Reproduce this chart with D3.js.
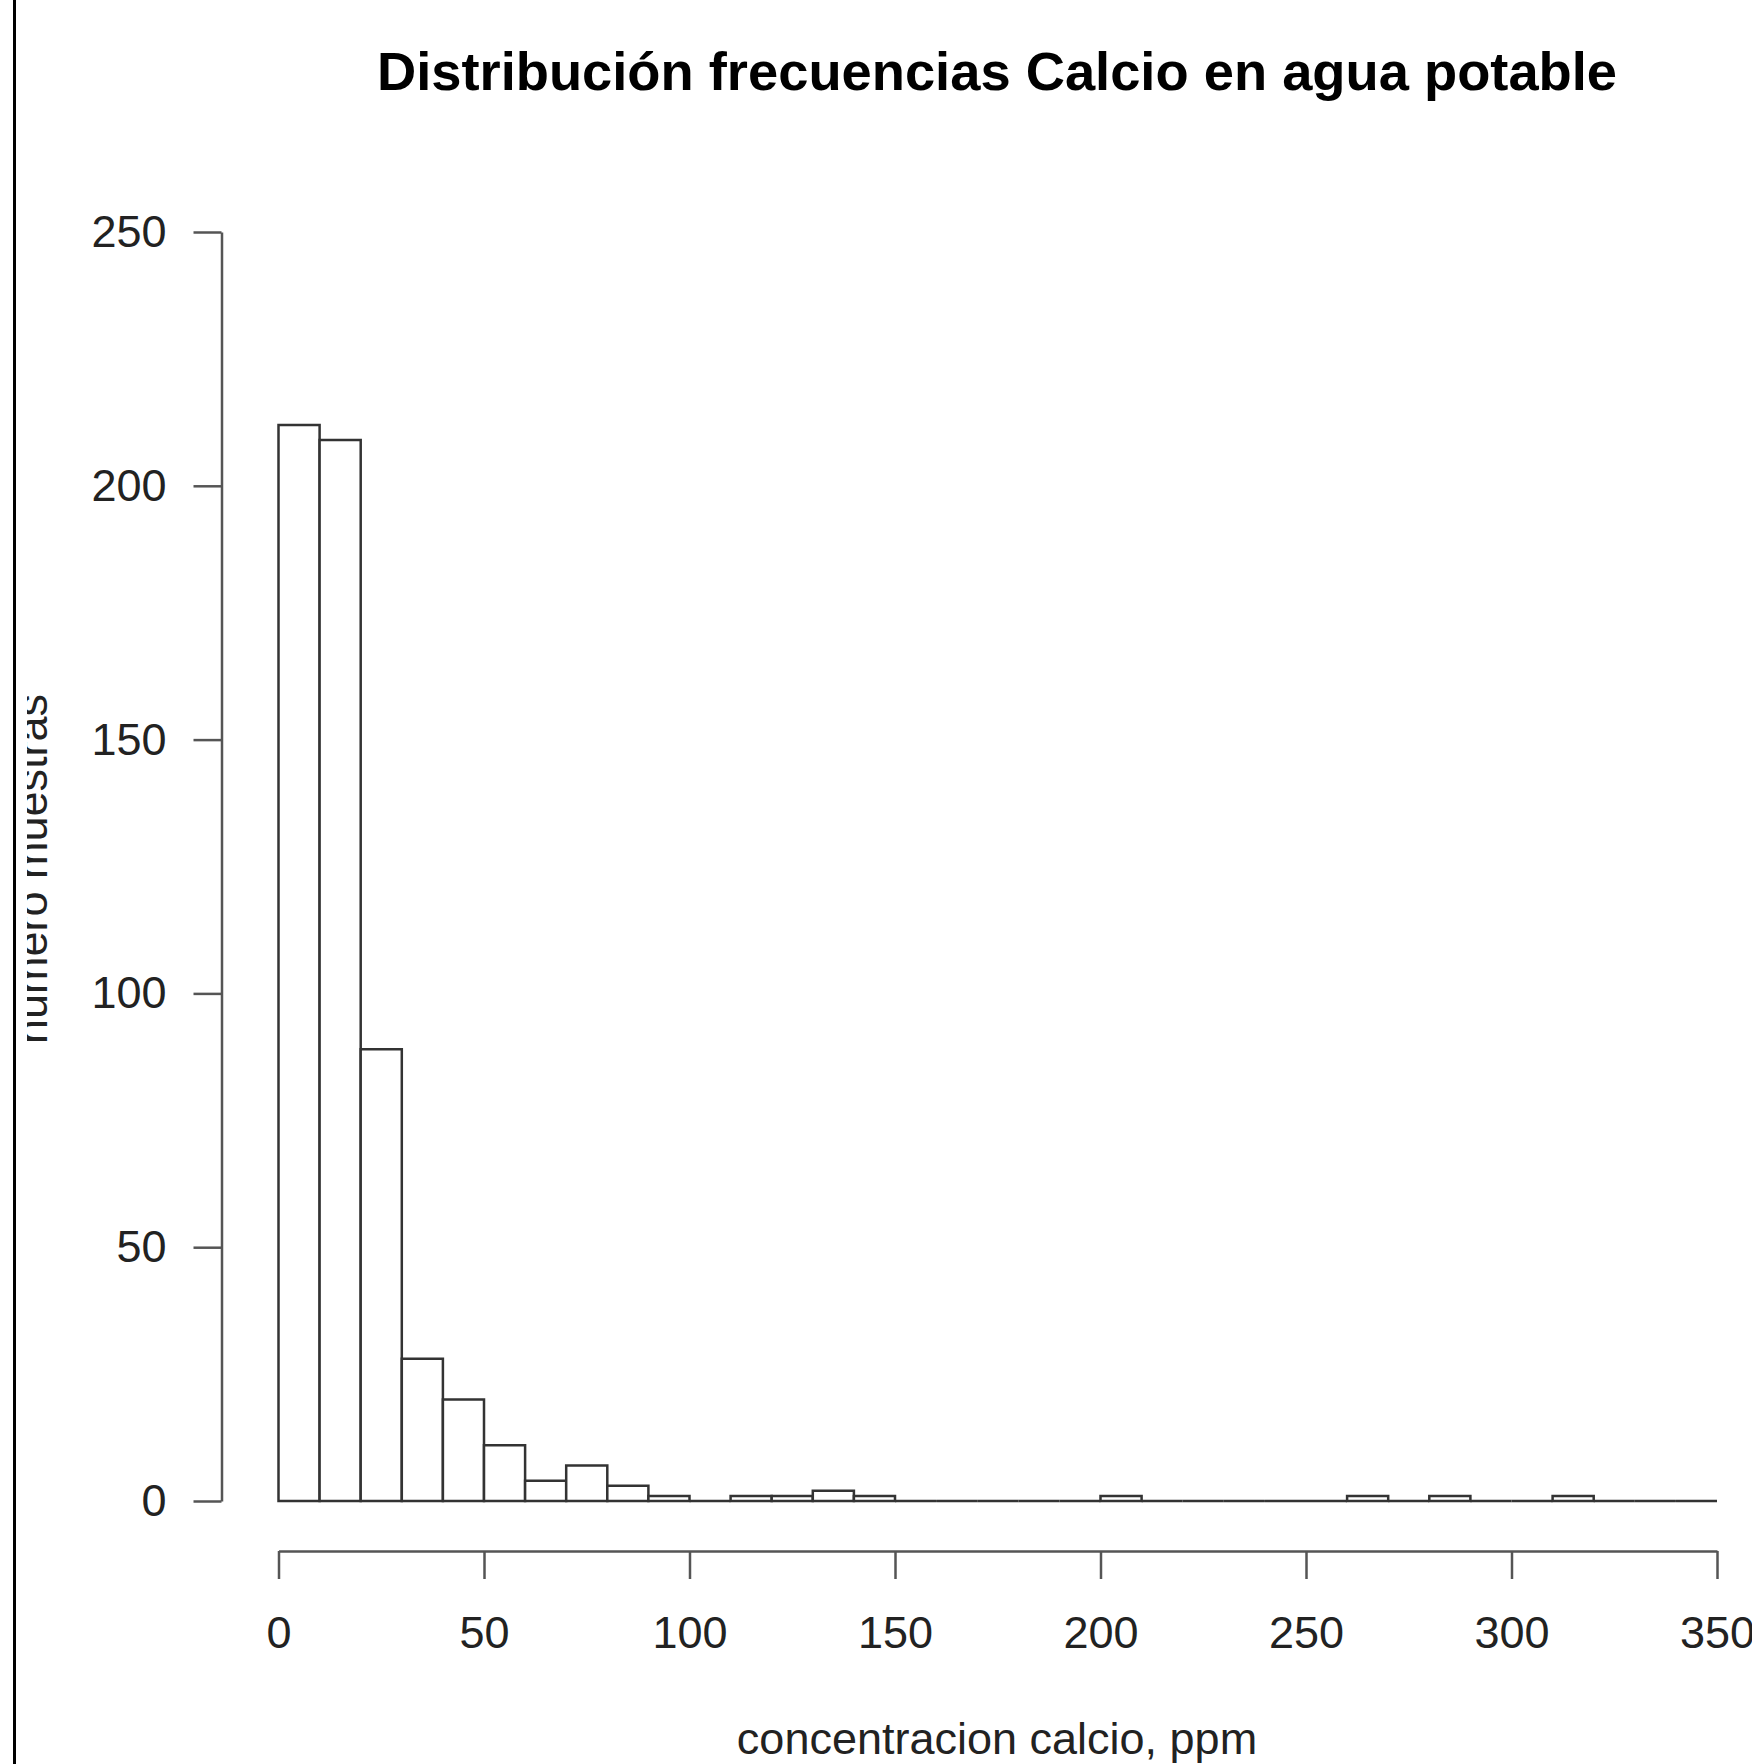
<!DOCTYPE html>
<html>
<head>
<meta charset="utf-8">
<script src="https://cdn.jsdelivr.net/npm/d3@7"></script>
<style>
    body { margin: 0; background: #fff; }
    svg { display: block; font-family: "Liberation Sans", Arial, Helvetica, sans-serif; }
</style>
</head>
<body>
<div id="chart"></div>
<script>
// histogram of calcium concentration, bins of 10 ppm from 0 to 350
const binWidth = 10;
const binStarts = d3.range(0, 350, binWidth);
const counts = [
    212, 209, 89, 28, 20, 11, 4, 7, 3, 1,
    0, 1, 1, 2, 1, 0, 0, 0, 0, 0,
    1, 0, 0, 0, 0, 0, 1, 0, 1, 0,
    0, 1, 0, 0, 0
];
const xTicks = [0, 50, 100, 150, 200, 250, 300, 350];
const yTicks = [0, 50, 100, 150, 200, 250];

const title = 'Distribución frecuencias Calcio en agua potable';
const xLabel = 'concentracion calcio, ppm';
const yLabel = 'numero muestras';

const bins = binStarts.map((x0, i) => ({ x0: x0, x1: x0 + binWidth, count: counts[i] }));

const width = 1752;
const height = 1764;
const axisColor = '#555';
const barColor = '#333';
const textColor = '#222';

const x = d3.scaleLinear()
    .domain([0, 350])
    .range([278.5, 1717]);

const y = d3.scaleLinear()
    .domain([0, 250])
    .range([1501, 232]);

const svg = d3.select('#chart').append('svg')
    .attr('width', width)
    .attr('height', height)
    .attr('viewBox', [0, 0, width, height]);

svg.append('rect')
    .attr('width', width)
    .attr('height', height)
    .attr('fill', '#fff');

// left frame edge of the original figure
svg.append('line')
    .attr('x1', 14.5).attr('x2', 14.5)
    .attr('y1', 0).attr('y2', height)
    .attr('stroke', '#000')
    .attr('stroke-width', 3);

svg.append('text')
    .attr('x', 997)
    .attr('y', 90)
    .attr('text-anchor', 'middle')
    .attr('font-size', 54.3)
    .attr('font-weight', 'bold')
    .attr('fill', '#000')
    .text(title);

// bars as closed paths so that empty bins still show on the baseline, like R
const barPath = d => {
    const p = d3.path();
    p.moveTo(x(d.x0), y(0));
    p.lineTo(x(d.x0), y(d.count));
    p.lineTo(x(d.x1), y(d.count));
    p.lineTo(x(d.x1), y(0));
    p.closePath();
    return p.toString();
};

svg.append('g')
    .selectAll('path')
    .data(bins)
    .join('path')
    .attr('d', barPath)
    .attr('fill', '#fff')
    .attr('stroke', barColor)
    .attr('stroke-width', 2.5)
    .attr('stroke-linejoin', 'miter');

let yAxis = g => g
    .attr('transform', 'translate(221.5,0)')
    .call(d3.axisLeft(y).tickValues(yTicks).tickSize(28).tickSizeOuter(0).tickPadding(27))
    .call(g => g.select('.domain').attr('stroke', axisColor).attr('stroke-width', 2.5))
    .call(g => g.selectAll('.tick line').attr('stroke', axisColor).attr('stroke-width', 2.5))
    .call(g => g.selectAll('.tick text')
        .attr('font-size', 45)
        .attr('font-family', '"Liberation Sans", Arial, sans-serif')
        .attr('fill', textColor));

let xAxis = g => g
    .attr('transform', 'translate(0,1551)')
    .call(d3.axisBottom(x).tickValues(xTicks).tickSize(28).tickSizeOuter(0).tickPadding(37))
    .call(g => g.select('.domain').attr('stroke', axisColor).attr('stroke-width', 2.5))
    .call(g => g.selectAll('.tick line').attr('stroke', axisColor).attr('stroke-width', 2.5))
    .call(g => g.selectAll('.tick text')
        .attr('font-size', 45)
        .attr('font-family', '"Liberation Sans", Arial, sans-serif')
        .attr('fill', textColor));

svg.append('g').call(yAxis);
svg.append('g').call(xAxis);

svg.append('text')
    .attr('x', 997)
    .attr('y', 1754)
    .attr('text-anchor', 'middle')
    .attr('font-size', 45)
    .attr('fill', textColor)
    .text(xLabel);

// y label: the tops of its letters are cut off by the left edge in the original
svg.append('clipPath')
    .attr('id', 'ylabClip')
    .append('rect')
    .attr('x', 27).attr('y', 0)
    .attr('width', width).attr('height', height);

svg.append('g')
    .attr('clip-path', 'url(#ylabClip)')
    .append('text')
    .attr('transform', 'translate(47,869) rotate(-90)')
    .attr('text-anchor', 'middle')
    .attr('font-size', 45)
    .attr('fill', textColor)
    .text(yLabel);
</script>
</body>
</html>
